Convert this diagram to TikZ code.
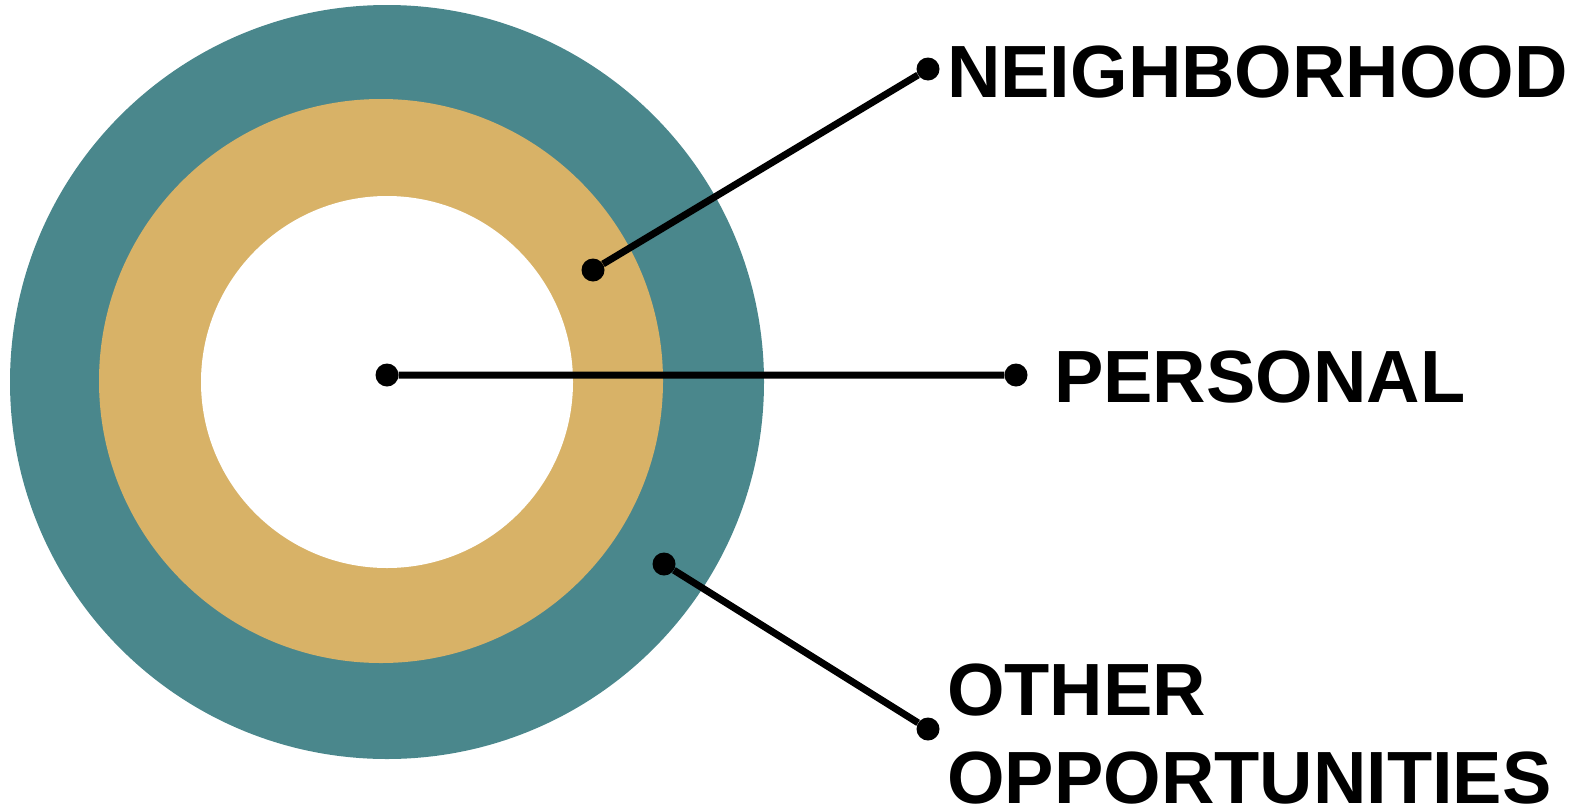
\documentclass[tikz,border=0pt]{standalone}
\usepackage{fontspec}
\setmainfont{Liberation Sans}
\usetikzlibrary{positioning}

\definecolor{outerring}{RGB}{74,135,140}
\definecolor{innerring}{RGB}{216,178,103}

\begin{document}
\begin{tikzpicture}[x=1pt, y=-1pt,
		dot/.style = {circle, fill=black, inner sep=0pt, minimum size=23pt},
		lbl/.style = {inner sep=0pt, anchor=base west, font=\fontsize{74}{88}\selectfont\bfseries, align=left}]
			\useasboundingbox (0,0) rectangle (1584,809);

			\fill[outerring] (387,382) circle (377pt);
			\fill[innerring] (381,381) circle (282pt);
			\fill[white] (387,382) circle (186pt);

			\node[dot] (0) at (387,375) {};
			\node[dot] (1) at (1016,375) {};
			\node[dot] (2) at (593,270) {};
			\node[dot] (3) at (928,69) {};
			\node[dot] (4) at (664,564) {};
			\node[dot] (5) at (928,729) {};

			\node[lbl] (personal) at (1054,402) {PERSONAL};
			\node[lbl] (neighborhood) at (947,97) {NEIGHBORHOOD};
			\node[lbl] (other) at (947,803) {OTHER\\OPPORTUNITIES};

			\draw[line width=7pt] (0) -- (1)
			(2) -- (3)
			(4) -- (5);
		\end{tikzpicture}
\end{document}
